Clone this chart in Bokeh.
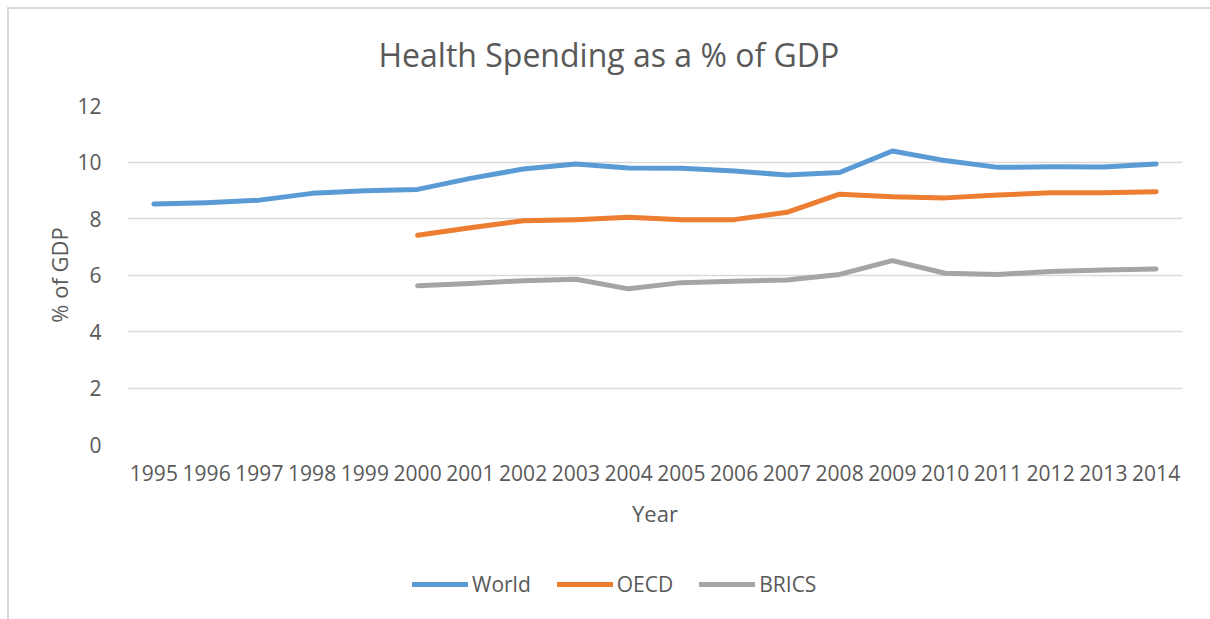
from bokeh.plotting import figure
from bokeh.models import FactorRange, Range1d, Legend, LegendItem, InlineStyleSheet
from bokeh.layouts import column
from bokeh.embed import file_html
from bokeh.resources import INLINE

years = [str(y) for y in range(1995, 2015)]
world = [8.51, 8.56, 8.65, 8.89, 8.98, 9.03, 9.42, 9.75, 9.93, 9.79,
         9.78, 9.68, 9.54, 9.63, 10.39, 10.05, 9.81, 9.83, 9.82, 9.93]
years_oecd = [str(y) for y in range(2000, 2015)]
oecd = [7.41, 7.67, 7.92, 7.96, 8.04, 7.96, 7.96, 8.22, 8.86, 8.77,
        8.73, 8.83, 8.91, 8.91, 8.95]
years_brics = [str(y) for y in range(2000, 2015)]
brics = [5.62, 5.70, 5.80, 5.85, 5.51, 5.73, 5.78, 5.82, 6.02, 6.51,
         6.06, 6.02, 6.12, 6.18, 6.21]
y_ticks = [0, 2, 4, 6, 8, 10, 12]
series = [("World", years, world, "#5b9bd5"),
          ("OECD", years_oecd, oecd, "#ed7d31"),
          ("BRICS", years_brics, brics, "#a5a5a5")]

FONT = "Open Sans"
TXT = "#595959"

p = figure(width=1210, height=561, x_range=FactorRange(*years), y_range=Range1d(0, 12),
           output_backend="svg", toolbar_location=None,
           title="Health Spending as a % of GDP",
           min_border_left=127, min_border_right=28, min_border_top=105, min_border_bottom=117)
p.outline_line_color = None
p.background_fill_color = "white"
p.border_fill_color = "white"

p.title.align = "left"
p.title.offset = 251
p.title.text_font = FONT
p.title.text_font_size = "32px"
p.title.text_font_style = "normal"
p.title.text_color = TXT
p.title.standoff = 60

p.xgrid.grid_line_color = None
p.ygrid.grid_line_color = "#d9d9d9"
p.ygrid.grid_line_width = 1.5
p.yaxis.ticker = y_ticks

for ax in (p.xaxis, p.yaxis):
    ax.axis_line_color = None
    ax.major_tick_line_color = None
    ax.minor_tick_line_color = None
    ax.major_label_text_font = FONT
    ax.major_label_text_font_size = "21px"
    ax.major_label_text_color = TXT
    ax.axis_label_text_font = FONT
    ax.axis_label_text_font_size = "22px"
    ax.axis_label_text_font_style = "normal"
    ax.axis_label_text_color = TXT

p.xaxis.axis_label = "Year"
p.yaxis.axis_label = "% of GDP"
p.yaxis.major_label_standoff = 20
p.xaxis.major_label_standoff = 14
p.xaxis.axis_label_standoff = 14
p.yaxis.axis_label_standoff = 0

# legend strip: same series drawn in a small figure whose range keeps them out of view
lf = figure(width=1210, height=58, x_range=FactorRange(*years), y_range=Range1d(100, 101),
            output_backend="svg", toolbar_location=None, x_axis_type=None, y_axis_type=None,
            min_border_left=127, min_border_right=28, min_border_top=0, min_border_bottom=0)
lf.outline_line_color = None
lf.xgrid.visible = False
lf.ygrid.visible = False
lf.background_fill_color = "white"
lf.border_fill_color = "white"

items = []
for name, xs, ys, color in series:
    p.line(xs, ys, line_color=color, line_width=5, line_cap="round", line_join="round")
    lr = lf.line(xs, ys, line_color=color, line_width=5, line_cap="round", line_join="round")
    items.append(LegendItem(label=name, renderers=[lr]))

legend = Legend(items=items, orientation="horizontal", location=(285, 21),
                glyph_width=56, glyph_height=20, label_standoff=4, spacing=26,
                label_text_font=FONT, label_text_font_size="21px", label_text_color=TXT,
                border_line_color=None, background_fill_alpha=0, margin=0, padding=0)
lf.add_layout(legend)

layout = column(p, lf, spacing=0, stylesheets=[InlineStyleSheet(css=""":host { position: relative; overflow: hidden; }
:host::after { content: ''; position: absolute; left: 7px; top: 7px; width: 1300px; height: 700px;
  box-sizing: border-box; border-left: 2px solid #d9d9d9; border-top: 2px solid #d9d9d9;
  pointer-events: none; z-index: 10; }""")])

open("out.html", "w").write(file_html(layout, INLINE))
